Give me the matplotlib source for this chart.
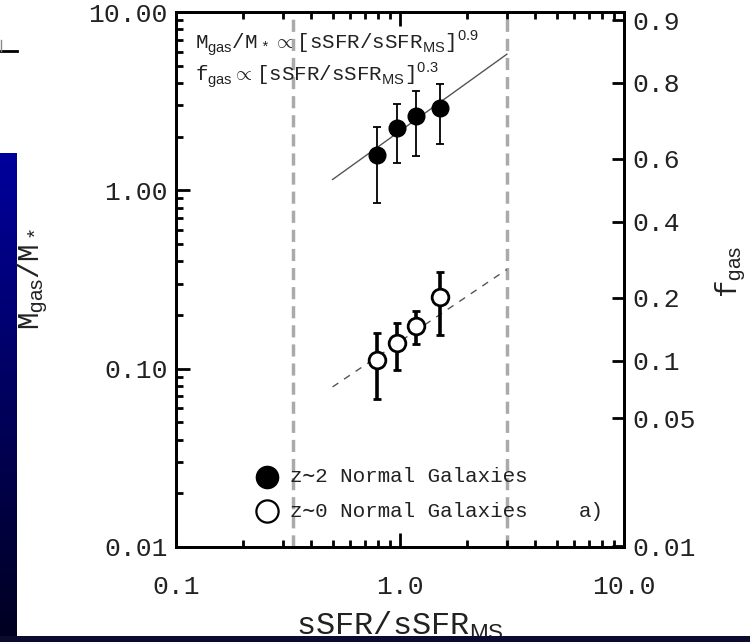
import numpy as np
import matplotlib
matplotlib.use('Agg')
import matplotlib.pyplot as plt
from matplotlib.ticker import FixedLocator, NullFormatter, LogLocator

# z~2 normal galaxies (filled circles)
ssfr_z2 = [0.79, 0.97, 1.18, 1.51]
mgas_z2 = [1.58, 2.24, 2.61, 2.88]
mgas_z2_lo = [0.85, 1.42, 1.56, 1.82]
mgas_z2_hi = [2.27, 3.05, 3.60, 3.93]

# z~0 normal galaxies (open circles)
ssfr_z0 = [0.79, 0.97, 1.18, 1.51]
mgas_z0 = [0.112, 0.139, 0.173, 0.253]
mgas_z0_lo = [0.0675, 0.098, 0.137, 0.154]
mgas_z0_hi = [0.158, 0.181, 0.210, 0.350]

# fitted relations
fit_x = [0.5, 3.0]
fit_z2 = [1.15, 5.8]
fit_z0 = [0.079, 0.36]

# main-sequence boundaries
ms_bounds = [1 / 3, 3.0]

y_ticks = [0.01, 0.1, 1.0, 10.0]
y_labels = ['0.01', '0.10', '1.00', '10.00']
x_ticks = [0.1, 1.0, 10.0]
x_labels = ['0.1', '1.0', '10.0']
fgas_ticks = [0.9, 0.8, 0.6, 0.4, 0.2, 0.1, 0.05, 0.01]

plt.rcParams['font.family'] = ['Liberation Mono', 'DejaVu Sans Mono']
plt.rcParams['mathtext.fontset'] = 'custom'
plt.rcParams['mathtext.rm'] = 'Liberation Mono'
plt.rcParams['mathtext.sf'] = 'Liberation Sans'
plt.rcParams['mathtext.fallback'] = 'cm'
txt_col = '#222222'

fig = plt.figure(figsize=(7.5, 6.42), dpi=100)
ax = fig.add_axes([176 / 750, 1 - 547 / 642, 448 / 750, 535 / 642])

ax.set_xscale('log')
ax.set_yscale('log')
ax.set_xlim(0.1, 10)
ax.set_ylim(0.01, 10)

# boundaries of the main sequence
for b in ms_bounds:
    ax.axvline(b, color='#aaaaaa', lw=2.5, ls=(0, (3.5, 2)), zorder=1)

# fits
ax.plot(fit_x, fit_z2, color='#555555', lw=1.0, zorder=2)
ax.plot(fit_x, fit_z0, color='#555555', lw=1.0, ls=(0, (5, 5)), zorder=2)

# data
z2_err = [np.array(mgas_z2) - np.array(mgas_z2_lo), np.array(mgas_z2_hi) - np.array(mgas_z2)]
ax.errorbar(ssfr_z2, mgas_z2, yerr=z2_err, fmt='o', color='black', ms=12,
            elinewidth=1.3, capsize=3, capthick=1.3, zorder=3)
z0_err = [np.array(mgas_z0) - np.array(mgas_z0_lo), np.array(mgas_z0_hi) - np.array(mgas_z0)]
ax.errorbar(ssfr_z0, mgas_z0, yerr=z0_err, fmt='o', color='black', mfc='white', ms=12,
            mew=2.0, elinewidth=2.6, capsize=3, capthick=2.6, zorder=3)

# legend
ax.plot([0.2025], [0.131], 'o', color='black', ms=16, transform=ax.transAxes, clip_on=False)
ax.plot([0.2025], [0.067], 'o', color='black', mfc='white', ms=16, mew=1.6,
        transform=ax.transAxes, clip_on=False)
ax.text(0.254, 0.131, 'z\u223c2 Normal Galaxies', transform=ax.transAxes, fontsize=15,
        va='center', color=txt_col)
ax.text(0.254, 0.067, 'z\u223c0 Normal Galaxies', transform=ax.transAxes, fontsize=15,
        va='center', color=txt_col)
ax.text(0.955, 0.067, 'a)', transform=ax.transAxes, fontsize=15, va='center', ha='right',
        color=txt_col)

# relations
ax.text(0.042, 0.942, r'M$_{\mathsf{gas}}$/M$_*$$\propto$[sSFR/sSFR$_{\mathsf{MS}}$]$^{\mathsf{0.9}}$',
        transform=ax.transAxes, fontsize=15, va='center', color=txt_col)
ax.text(0.042, 0.882, r'f$_{\mathsf{gas}}$$\propto$[sSFR/sSFR$_{\mathsf{MS}}$]$^{\mathsf{0.3}}$',
        transform=ax.transAxes, fontsize=15, va='center', color=txt_col)

# axes styling
for s in ax.spines.values():
    s.set_linewidth(2.0)
ax.set_xticks(x_ticks)
ax.set_xticklabels(x_labels)
ax.set_yticks(y_ticks)
ax.set_yticklabels(y_labels)
ax.xaxis.set_minor_locator(LogLocator(base=10, subs=np.arange(2, 10)))
ax.yaxis.set_minor_locator(LogLocator(base=10, subs=np.arange(2, 10)))
ax.xaxis.set_minor_formatter(NullFormatter())
ax.yaxis.set_minor_formatter(NullFormatter())
ax.tick_params(which='both', direction='in', top=True, right=False, colors='black',
               labelcolor=txt_col, labelsize=19)
ax.tick_params(which='major', length=10, width=2)
ax.tick_params(which='minor', length=5, width=2)
ax.tick_params(axis='x', pad=20)
ax.tick_params(axis='y', pad=6)

ax.set_xlabel(r'sSFR/sSFR$_{\mathsf{MS}}$', fontsize=23, color=txt_col, labelpad=8)
fig.text(0.044, 0.565, r'M$_{\mathsf{gas}}$/M$_*$', rotation=90, fontsize=21,
         va='center', ha='center', color=txt_col)

# gas fraction axis
ax2 = ax.twinx()
ax2.set_yscale('log')
ax2.set_ylim(ax.get_ylim())
ax2.yaxis.set_major_locator(FixedLocator([f / (1 - f) for f in fgas_ticks]))
ax2.yaxis.set_minor_locator(FixedLocator([]))
ax2.set_yticklabels([str(f) for f in fgas_ticks])
ax2.tick_params(axis='y', direction='in', length=9, width=2, labelsize=19, pad=6,
                labelcolor=txt_col)
for s in ax2.spines.values():
    s.set_linewidth(2.0)
fig.text(0.974, 0.576, r'f$_{\mathsf{gas}}$', rotation=90, fontsize=21,
         va='center', ha='center', color=txt_col)

# slide decorations
grad = np.linspace(0, 1, 256).reshape(-1, 1)
strip = fig.add_axes([0, 0, 17 / 750, 1 - 153 / 642])
strip.imshow(grad, aspect='auto', cmap=matplotlib.colors.LinearSegmentedColormap.from_list(
    'slide', ['#00009c', '#000020']), extent=[0, 1, 0, 1])
strip.set_axis_off()
bottom = fig.add_axes([0, 0, 1, 6 / 642])
bottom.set_facecolor('#0b0b30')
bottom.set_xticks([])
bottom.set_yticks([])
for s in bottom.spines.values():
    s.set_visible(False)
fig.add_artist(plt.Line2D([0, 17 / 750], [1 - 51 / 642, 1 - 51 / 642], color='black', lw=2))
fig.add_artist(plt.Line2D([0.5 / 750, 0.5 / 750], [1 - 51 / 642, 1 - 40 / 642], color='#888888', lw=1))

fig.savefig('out.png', dpi=100)
